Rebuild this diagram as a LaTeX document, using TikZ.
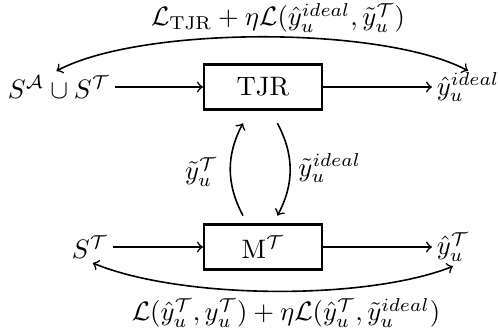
\documentclass[tikz,border=0pt]{standalone}
\usepackage{amsmath}
\begin{document}
\begin{tikzpicture}[x=0.375pt,y=-0.375pt, line width=0.6pt,
  box/.style={draw, line width=0.8pt, minimum width=44.25pt, minimum height=16.9pt, inner sep=0pt},
  lab/.style={inner sep=1.5pt},
  txt/.style={inner sep=1pt}]
\useasboundingbox (0,0) rectangle (498,334);
\node[box] (tjr) at (263,87) {TJR};
\node[box] (m) at (263,247) {M$^{\mathcal{T}}$};
\node[lab, anchor=east] (a) at (115,87) {$S^{\mathcal{A}}\cup S^{\mathcal{T}}$};
\node[lab, anchor=west] (yi) at (432,87) {$\hat{y}_u^{ideal}$};
\node[lab, anchor=east] (st) at (113,247) {$S^{\mathcal{T}}$};
\node[lab, anchor=west] (yt) at (432,247) {$\hat{y}_u^{\mathcal{T}}$};
\draw[->] (a) -- (tjr);
\draw[->] (tjr) -- (yi);
\draw[->] (st) -- (m);
\draw[->] (m) -- (yt);
\draw[<->] ([xshift=-1pt]a.north) to[bend left=28, looseness=0.6] ([yshift=-1.2pt]yi.north);
\draw[<->] ([xshift=1pt]st.south) to[bend right=22, looseness=0.67] (yt.south);
\draw[->] ([xshift=-7.5pt, yshift=2.9pt]m.north) to[bend left=28] ([xshift=-7.5pt, yshift=-4.75pt]tjr.south);
\draw[->] ([xshift=5.4pt, yshift=-4.75pt]tjr.south) to[bend left=28] ([xshift=5.4pt, yshift=2.9pt]m.north);
\node[txt, anchor=east] (l1) at (221,172) {$\tilde{y}_u^{\mathcal{T}}$};
\node[txt, anchor=west] (l2) at (295,168) {$\tilde{y}_u^{ideal}$};
\node[txt] (top) at (278,18) {$\mathcal{L}_{\mathrm{TJR}}+\eta\mathcal{L}(\hat{y}_u^{ideal},\tilde{y}_u^{\mathcal{T}})$};
\node[txt] (bot) at (286,313) {$\mathcal{L}(\hat{y}_u^{\mathcal{T}},y_u^{\mathcal{T}})+\eta\mathcal{L}(\hat{y}_u^{\mathcal{T}},\tilde{y}_u^{ideal})$};
\end{tikzpicture}
\end{document}
